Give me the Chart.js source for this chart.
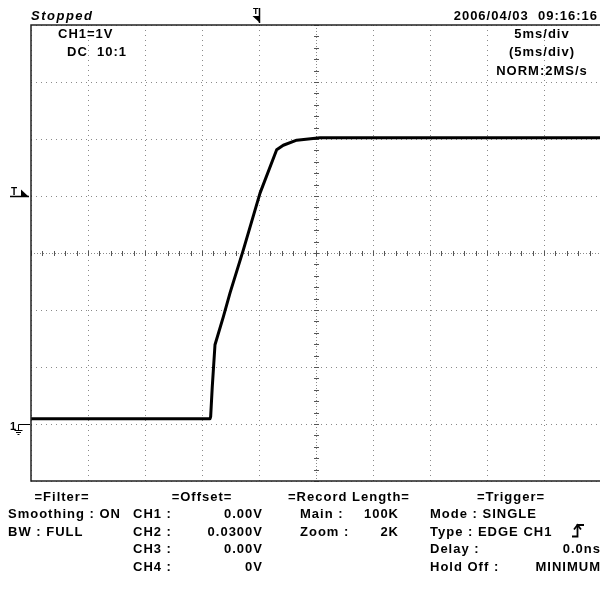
<!DOCTYPE html>
<html>
<head>
<meta charset="utf-8">
<script src="https://cdn.jsdelivr.net/npm/chart.js@4"></script>
<style>
  html, body { margin: 0; padding: 0; background: #fff; }
  #stage { position: relative; width: 600px; height: 590px; overflow: hidden; background: #fff; }
  #scope { position: absolute; left: 0; top: 0; }
  .t { position: absolute; font-family: "Liberation Sans", Arial, sans-serif; font-weight: bold;
       font-size: 13px; line-height: 13px; letter-spacing: 1px; color: #000; white-space: pre; }
  .it { font-style: italic; letter-spacing: 1.5px; }
  .r { text-align: right; }
  .c { text-align: center; }
  .mk { font-size: 9px; line-height: 9px; letter-spacing: 0; }
  #edge { position: absolute; left: 571px; top: 523px; }
</style>
</head>
<body>
<div id="stage">
  <canvas id="scope" width="610" height="590"></canvas>

  <div class="t it" style="left:31px;top:9px">Stopped</div>
  <div class="t r" style="left:440px;top:9px;width:158px">2006/04/03  09:16:16</div>

  <div class="t" style="left:58px;top:27px">CH1=1V</div>
  <div class="t" style="left:67px;top:45px">DC  10:1</div>

  <div class="t c" style="left:482px;top:27px;width:120px">5ms/div</div>
  <div class="t c" style="left:482px;top:45px;width:120px">(5ms/div)</div>
  <div class="t c" style="left:482px;top:64px;width:120px">NORM:2MS/s</div>

  <div class="t mk" style="left:253px;top:7px">T</div>
  <div class="t mk" style="left:11px;top:187px;font-size:10px;line-height:10px">T</div>
  <div class="t mk" style="left:10px;top:421px;font-size:11px;line-height:11px">1</div>

  <div class="t c" style="left:2px;top:490px;width:120px">=Filter=</div>
  <div class="t" style="left:8px;top:507px">Smoothing : ON</div>
  <div class="t" style="left:8px;top:525px">BW : FULL</div>

  <div class="t c" style="left:142px;top:490px;width:120px">=Offset=</div>
  <div class="t" style="left:133px;top:507px">CH1 :</div>
  <div class="t" style="left:133px;top:525px">CH2 :</div>
  <div class="t" style="left:133px;top:542px">CH3 :</div>
  <div class="t" style="left:133px;top:560px">CH4 :</div>
  <div class="t r" style="left:190px;top:507px;width:73px">0.00V</div>
  <div class="t r" style="left:190px;top:525px;width:73px">0.0300V</div>
  <div class="t r" style="left:190px;top:542px;width:73px">0.00V</div>
  <div class="t r" style="left:190px;top:560px;width:73px">0V</div>

  <div class="t c" style="left:279px;top:490px;width:140px">=Record Length=</div>
  <div class="t" style="left:300px;top:507px">Main :</div>
  <div class="t" style="left:300px;top:525px">Zoom :</div>
  <div class="t r" style="left:340px;top:507px;width:59px">100K</div>
  <div class="t r" style="left:340px;top:525px;width:59px">2K</div>

  <div class="t c" style="left:451px;top:490px;width:120px">=Trigger=</div>
  <div class="t" style="left:430px;top:507px">Mode : SINGLE</div>
  <div class="t" style="left:430px;top:525px">Type : EDGE CH1</div>
  <div class="t" style="left:430px;top:542px">Delay :</div>
  <div class="t" style="left:430px;top:560px">Hold Off :</div>
  <div class="t r" style="left:500px;top:542px;width:101px">0.0ns</div>
  <div class="t r" style="left:500px;top:560px;width:101px">MINIMUM</div>

  <!-- rising-edge slope symbol -->
  <svg id="edge" width="14" height="15" viewBox="0 0 14 15">
    <path d="M1 13.5 H6.5 V2 H13" fill="none" stroke="#000" stroke-width="1.8"/>
    <path d="M3 6.5 L6.5 2 L10 6.5" fill="none" stroke="#000" stroke-width="1.8"/>
  </svg>
</div>

<script>
// Captured CH1 waveform: time in ms (5 ms/div, trigger at centre), level in volts (1 V/div)
const timeMs = [-25, -9.30, -9.24, -9.10, -8.86, -8.13, -7.54, -6.38, -4.91, -3.45, -2.87, -1.69, 0.35, 25];
const volts  = [0.09, 0.09, 0.13, 0.65, 1.39, 1.88, 2.30, 3.05, 4.05, 4.81, 4.89, 4.98, 5.02, 5.02];

// Screen graticule: 10 horizontal and 8 vertical divisions
const timeRange = [-25, 25];
const timePerDiv = 5;
const voltRange = [-1, 7];
const voltPerDiv = 1;
const timeCentre = 0;
const voltCentre = 3;
const subdivisions = 5;
const triggerMarkTime = -5;
const triggerLevel = 4;
const groundLevel = 0;

const points = timeMs.map((t, i) => ({ x: t, y: volts[i] }));

const GRID = '#8a8a8a';
const FRAME = '#222';

const scopeDecor = {
  id: 'scopeDecor',
  beforeDatasetsDraw(chart) {
    const { ctx, chartArea: a, scales: { x, y } } = chart;
    const cx = Math.round(x.getPixelForValue(timeCentre)) + 0.5;
    const cy = Math.round(y.getPixelForValue(voltCentre)) + 0.5;
    ctx.save();
    ctx.strokeStyle = GRID;
    ctx.lineWidth = 1;
    // dense centre cross
    ctx.setLineDash([1, 2]);
    ctx.beginPath();
    ctx.moveTo(cx, a.top); ctx.lineTo(cx, a.bottom);
    ctx.moveTo(a.left, cy); ctx.lineTo(a.right, cy);
    ctx.stroke();
    ctx.setLineDash([]);
    ctx.strokeStyle = '#555';
    // minor ticks on the centre cross
    ctx.beginPath();
    const stepX = timePerDiv / subdivisions;
    for (let t = timeRange[0]; t <= timeRange[1] + 1e-9; t += stepX) {
      const px = Math.round(x.getPixelForValue(t)) + 0.5;
      ctx.moveTo(px, cy - 2.5); ctx.lineTo(px, cy + 2.5);
    }
    const stepY = voltPerDiv / subdivisions;
    for (let v = voltRange[0]; v <= voltRange[1] + 1e-9; v += stepY) {
      const py = Math.round(y.getPixelForValue(v)) + 0.5;
      ctx.moveTo(cx - 2.5, py); ctx.lineTo(cx + 2.5, py);
    }
    ctx.stroke();
    ctx.restore();
  },
  afterDraw(chart) {
    const { ctx, chartArea: a, scales: { x, y } } = chart;
    ctx.save();
    // frame
    ctx.strokeStyle = FRAME;
    ctx.lineWidth = 1.5;
    ctx.beginPath();
    ctx.moveTo(a.right + 5, a.top); ctx.lineTo(a.left, a.top);
    ctx.lineTo(a.left, a.bottom); ctx.lineTo(a.right + 5, a.bottom);
    ctx.stroke();

    ctx.fillStyle = '#000';
    ctx.strokeStyle = '#000';
    ctx.lineWidth = 1.5;
    // trigger position marker (top)
    const tx = Math.round(x.getPixelForValue(triggerMarkTime)) + 0.5;
    const ty = a.top - 2;
    ctx.beginPath(); ctx.moveTo(tx, ty - 15); ctx.lineTo(tx, ty); ctx.stroke();
    ctx.beginPath(); ctx.moveTo(tx - 7, ty - 7); ctx.lineTo(tx + 0.5, ty - 7); ctx.lineTo(tx + 0.5, ty); ctx.closePath(); ctx.fill();
    // trigger level marker (left)
    const ly = Math.round(y.getPixelForValue(triggerLevel)) + 0.5;
    const lx = a.left - 2;
    ctx.beginPath(); ctx.moveTo(lx - 19, ly); ctx.lineTo(lx, ly); ctx.stroke();
    ctx.beginPath(); ctx.moveTo(lx - 8, ly - 7); ctx.lineTo(lx - 8, ly + 0.5); ctx.lineTo(lx, ly + 0.5); ctx.closePath(); ctx.fill();
    // ground marker
    const gy = Math.round(y.getPixelForValue(groundLevel)) + 0.5;
    const gx = a.left - 12.5;
    ctx.lineWidth = 1;
    ctx.beginPath();
    ctx.moveTo(a.left - 1, gy); ctx.lineTo(gx, gy); ctx.lineTo(gx, gy + 6);
    ctx.moveTo(gx - 4, gy + 6); ctx.lineTo(gx + 4, gy + 6);
    ctx.moveTo(gx - 2.5, gy + 8); ctx.lineTo(gx + 2.5, gy + 8);
    ctx.moveTo(gx - 1, gy + 10); ctx.lineTo(gx + 1, gy + 10);
    ctx.stroke();
    ctx.restore();
  }
};

new Chart(document.getElementById('scope'), {
  type: 'scatter',
  data: {
    datasets: [{
      data: points,
      showLine: true,
      borderColor: '#000',
      borderWidth: 3,
      pointRadius: 0,
      tension: 0,
      borderJoinStyle: 'round'
    }]
  },
  options: {
    responsive: false,
    animation: false,
    events: [],
    layout: { padding: { left: 31, top: 25, right: 9, bottom: 109 } },
    plugins: { legend: { display: false }, tooltip: { enabled: false } },
    scales: {
      x: {
        type: 'linear', min: timeRange[0], max: timeRange[1],
        ticks: { display: false, stepSize: timePerDiv },
        grid: {
          drawTicks: false, lineWidth: 1,
          color: c => (c.tick && c.tick.value === timeCentre) ? 'rgba(0,0,0,0)' : GRID
        },
        border: { display: false, dash: [1, 4] }
      },
      y: {
        type: 'linear', min: voltRange[0], max: voltRange[1],
        ticks: { display: false, stepSize: voltPerDiv },
        grid: {
          drawTicks: false, lineWidth: 1,
          color: c => (c.tick && c.tick.value === voltCentre) ? 'rgba(0,0,0,0)' : GRID
        },
        border: { display: false, dash: [1, 4] }
      }
    }
  },
  plugins: [scopeDecor]
});
</script>
</body>
</html>
